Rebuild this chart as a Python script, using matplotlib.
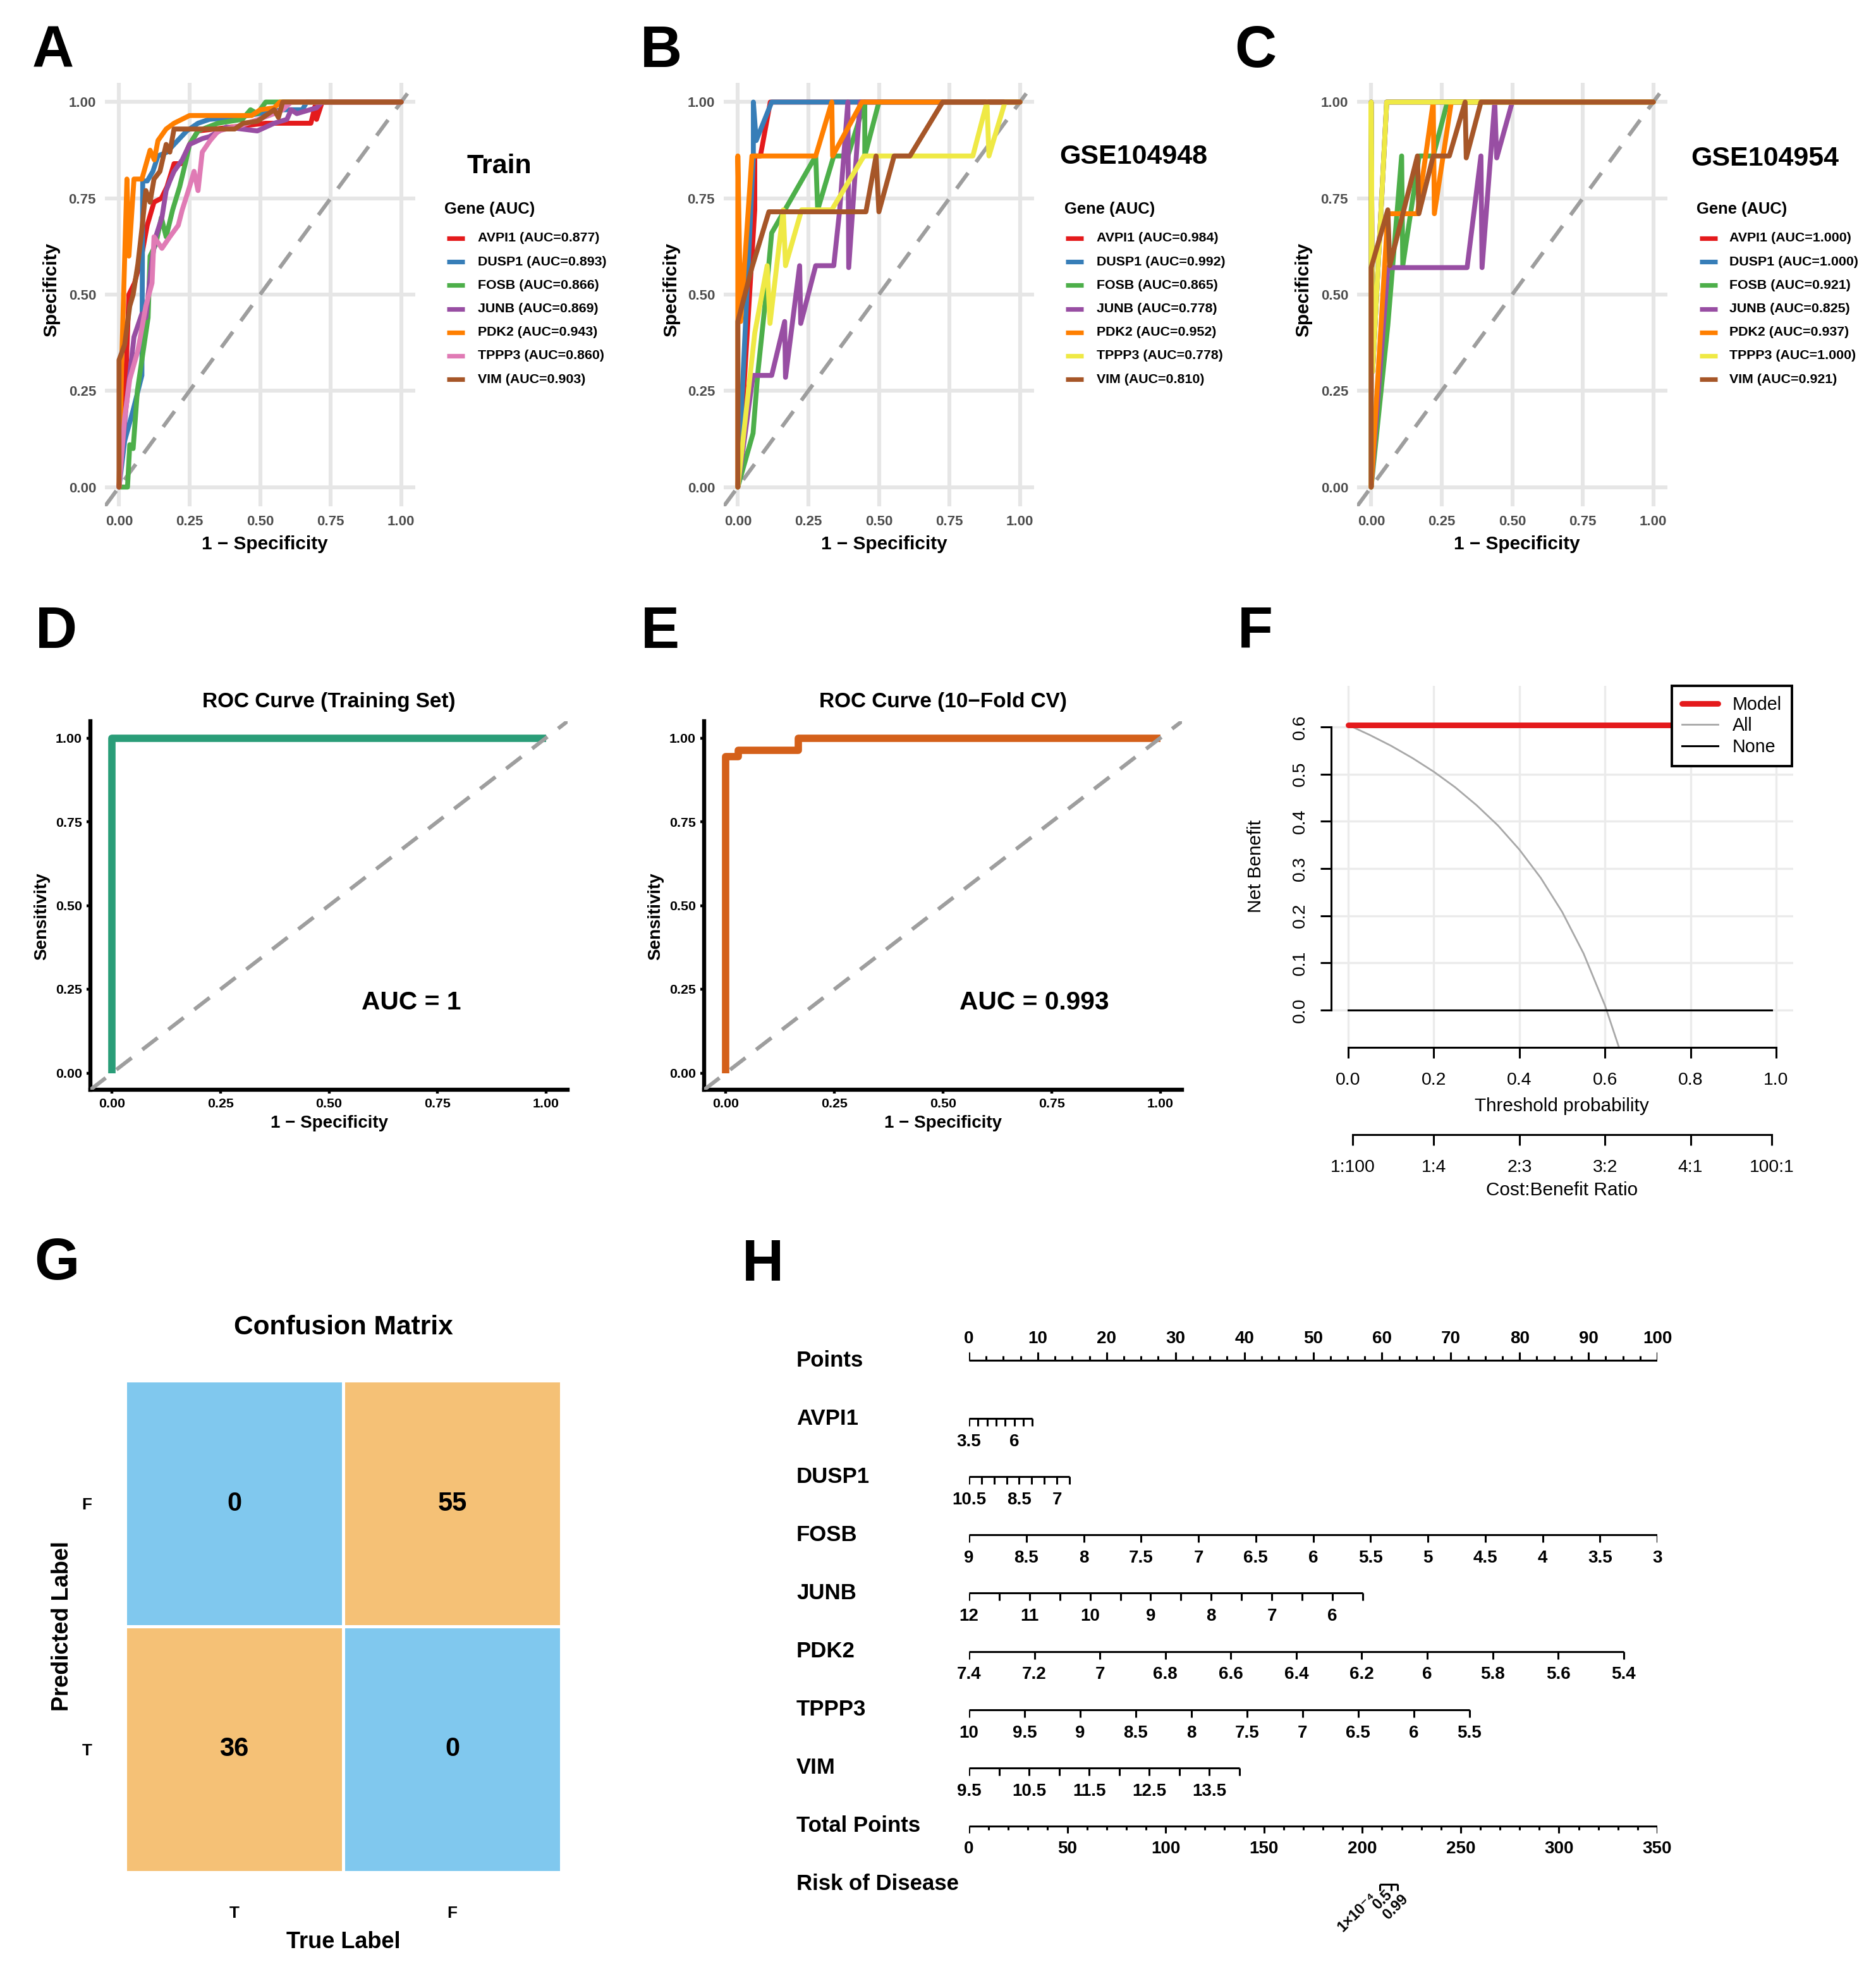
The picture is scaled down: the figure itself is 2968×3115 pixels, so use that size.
import numpy as np
import matplotlib
matplotlib.use('Agg')
import matplotlib.pyplot as plt
from matplotlib.lines import Line2D
from matplotlib.colors import ListedColormap

plt.rcParams['font.family'] = ['Liberation Sans', 'DejaVu Sans']

# ---------------- DATA ----------------
GENES = ['AVPI1', 'DUSP1', 'FOSB', 'JUNB', 'PDK2', 'TPPP3', 'VIM']
AUC_TRAIN = [0.877, 0.893, 0.866, 0.869, 0.943, 0.860, 0.903]
AUC_GSE104948 = [0.984, 0.992, 0.865, 0.778, 0.952, 0.778, 0.810]
AUC_GSE104954 = [1.000, 1.000, 0.921, 0.825, 0.937, 1.000, 0.921]

# Panel A (Train) curves
A_AVPI1_X = [0, 0.02, 0.035, 0.055, 0.08, 0.10, 0.124, 0.15, 0.17, 0.195, 0.22, 0.25, 0.28, 0.40, 0.52, 0.68, 0.695, 0.70, 0.72, 1.0]
A_AVPI1_Y = [0, 0.2, 0.5, 0.53, 0.60, 0.68, 0.74, 0.75, 0.78, 0.84, 0.84, 0.89, 0.925, 0.935, 0.945, 0.945, 0.99, 0.955, 1.0, 1.0]
A_DUSP1_X = [0, 0.02, 0.05, 0.081, 0.084, 0.10, 0.12, 0.138, 0.17, 0.195, 0.24, 0.28, 0.32, 0.44, 0.58, 0.65, 0.665, 1.0]
A_DUSP1_Y = [0, 0.12, 0.2, 0.29, 0.795, 0.795, 0.82, 0.86, 0.87, 0.89, 0.925, 0.945, 0.955, 0.963, 0.98, 0.98, 1.0, 1.0]
A_FOSB_X = [0, 0.03, 0.038, 0.05, 0.065, 0.081, 0.103, 0.11, 0.13, 0.15, 0.167, 0.19, 0.215, 0.238, 0.25, 0.28, 0.35, 0.437, 0.466, 0.49, 0.52, 1.0]
A_FOSB_Y = [0, 0, 0.11, 0.10, 0.25, 0.33, 0.44, 0.60, 0.63, 0.70, 0.65, 0.72, 0.78, 0.85, 0.89, 0.925, 0.945, 0.955, 0.98, 0.97, 1.0, 1.0]
A_JUNB_X = [0, 0.024, 0.053, 0.081, 0.095, 0.115, 0.13, 0.152, 0.167, 0.18, 0.195, 0.224, 0.25, 0.295, 0.32, 0.38, 0.49, 0.55, 0.595, 0.61, 0.63, 0.70, 0.72, 1.0]
A_JUNB_Y = [0, 0.2, 0.39, 0.45, 0.44, 0.58, 0.65, 0.70, 0.77, 0.795, 0.82, 0.85, 0.89, 0.905, 0.91, 0.935, 0.925, 0.945, 0.955, 0.98, 0.97, 0.985, 1.0, 1.0]
A_PDK2_X = [0, 0.01, 0.028, 0.035, 0.053, 0.081, 0.11, 0.125, 0.138, 0.167, 0.195, 0.25, 0.28, 0.47, 0.50, 0.55, 0.57, 1.0]
A_PDK2_Y = [0, 0.34, 0.80, 0.60, 0.80, 0.80, 0.875, 0.85, 0.90, 0.93, 0.945, 0.965, 0.965, 0.965, 0.98, 0.985, 1.0, 1.0]
A_TPPP3_X = [0, 0.02, 0.038, 0.067, 0.095, 0.117, 0.124, 0.152, 0.18, 0.21, 0.224, 0.25, 0.266, 0.28, 0.295, 0.323, 0.352, 0.437, 0.494, 0.55, 0.58, 0.61, 1.0]
A_TPPP3_Y = [0, 0.18, 0.28, 0.355, 0.47, 0.53, 0.65, 0.62, 0.65, 0.68, 0.72, 0.78, 0.82, 0.77, 0.87, 0.90, 0.925, 0.94, 0.955, 0.97, 0.98, 1.0, 1.0]
A_VIM_X = [0, 0, 0.02, 0.038, 0.05, 0.067, 0.081, 0.095, 0.11, 0.124, 0.145, 0.167, 0.18, 0.195, 0.25, 0.41, 0.44, 0.49, 0.55, 0.565, 0.58, 1.0]
A_VIM_Y = [0, 0.33, 0.37, 0.47, 0.50, 0.58, 0.67, 0.77, 0.74, 0.80, 0.82, 0.89, 0.87, 0.93, 0.93, 0.93, 0.945, 0.95, 0.98, 0.96, 1.0, 1.0]

# Panel B (GSE104948) curves
B_AVPI1_X = [0, 0.06, 0.06, 0.08, 0.115, 1.0]
B_AVPI1_Y = [0, 0.72, 0.86, 0.86, 1.0, 1.0]
B_DUSP1_X = [0, 0.055, 0.055, 0.065, 0.12, 1.0]
B_DUSP1_Y = [0, 0.86, 1.0, 0.90, 1.0, 1.0]
B_FOSB_X = [0, 0.054, 0.07, 0.10, 0.12, 0.276, 0.283, 0.34, 0.39, 0.45, 0.45, 0.50, 1.0]
B_FOSB_Y = [0, 0.14, 0.29, 0.50, 0.66, 0.86, 0.72, 0.86, 0.86, 1.0, 0.86, 1.0, 1.0]
B_JUNB_X = [0, 0.054, 0.12, 0.166, 0.169, 0.219, 0.223, 0.276, 0.34, 0.361, 0.39, 0.393, 0.433, 1.0]
B_JUNB_Y = [0, 0.29, 0.29, 0.43, 0.285, 0.575, 0.425, 0.575, 0.575, 0.72, 1.0, 0.57, 1.0, 1.0]
B_PDK2_X = [0, 0, 0.01, 0.05, 0.276, 0.333, 0.336, 0.44, 1.0]
B_PDK2_Y = [0, 0.86, 0.43, 0.86, 0.86, 1.0, 0.86, 1.0, 1.0]
B_TPPP3_X = [0, 0.06, 0.104, 0.114, 0.161, 0.169, 0.226, 0.333, 0.447, 0.833, 0.883, 0.89, 0.947, 1.0]
B_TPPP3_Y = [0, 0.4, 0.575, 0.425, 0.72, 0.575, 0.72, 0.72, 0.86, 0.86, 1.0, 0.86, 1.0, 1.0]
B_VIM_X = [0, 0, 0.05, 0.11, 0.454, 0.49, 0.50, 0.554, 0.61, 0.726, 1.0]
B_VIM_Y = [0, 0.43, 0.57, 0.715, 0.715, 0.86, 0.715, 0.86, 0.86, 1.0, 1.0]

# Panel C (GSE104954) curves
C_AVPI1_X = [0, 0, 0.005, 0.055, 1.0]
C_AVPI1_Y = [0, 1.0, 0.3, 1.0, 1.0]
C_DUSP1_X = [0, 0, 0.005, 0.055, 1.0]
C_DUSP1_Y = [0, 1.0, 0.3, 1.0, 1.0]
C_FOSB_X = [0, 0.059, 0.108, 0.112, 0.17, 0.22, 0.27, 1.0]
C_FOSB_Y = [0, 0.42, 0.86, 0.575, 0.86, 0.86, 1.0, 1.0]
C_JUNB_X = [0, 0.059, 0.34, 0.389, 0.393, 0.438, 0.445, 0.50, 1.0]
C_JUNB_Y = [0, 0.57, 0.57, 0.86, 0.57, 1.0, 0.855, 1.0, 1.0]
C_PDK2_X = [0, 0.059, 0.164, 0.22, 0.224, 0.284, 1.0]
C_PDK2_Y = [0, 0.71, 0.71, 1.0, 0.71, 1.0, 1.0]
C_TPPP3_X = [0, 0, 0.005, 0.055, 1.0]
C_TPPP3_Y = [0, 1.0, 0.3, 1.0, 1.0]
C_VIM_X = [0, 0, 0.059, 0.066, 0.164, 0.169, 0.22, 0.277, 0.333, 0.337, 0.389, 1.0]
C_VIM_Y = [0, 0.57, 0.72, 0.575, 0.86, 0.71, 0.86, 0.86, 1.0, 0.855, 1.0, 1.0]

# Panel D / E
TRAIN_FPR = [0, 0, 1.0]
TRAIN_TPR = [0, 1.0, 1.0]
CV_FPR = [0, 0, 0.028, 0.028, 0.167, 0.167, 1.0]
CV_TPR = [0, 0.945, 0.945, 0.964, 0.964, 1.0, 1.0]

# Panel F (decision curve)
MODEL_THR = [0.0, 0.99]
MODEL_NB = [0.604, 0.604]
ALL_THR = [0.0, 0.05, 0.10, 0.15, 0.20, 0.25, 0.30, 0.35, 0.40, 0.45, 0.50, 0.55, 0.60, 0.635]
ALL_NB = [0.604, 0.583, 0.560, 0.534, 0.505, 0.472, 0.434, 0.391, 0.340, 0.280, 0.208, 0.120, 0.010, -0.085]
NONE_THR = [0.0, 0.99]
NONE_NB = [0.0, 0.0]
CB_POS = [0.01, 0.2, 0.4, 0.6, 0.8, 0.99]
CB_LABELS = ['1:100', '1:4', '2:3', '3:2', '4:1', '100:1']

# Panel G (confusion matrix)
CM_PRED = ['F', 'T']
CM_TRUE = ['T', 'F']
CM_COUNTS = [[0, 55], [36, 0]]

# Panel H (nomogram): ticks, points at first/last tick, labelled ticks
AVPI1_TICKS = [3.5, 4, 4.5, 5, 5.5, 6, 6.5, 7]
AVPI1_PTS = [0, 9.2]
AVPI1_LAB = [3.5, 6]
DUSP1_TICKS = [10.5, 10, 9.5, 9, 8.5, 8, 7.5, 7, 6.5]
DUSP1_PTS = [0, 14.6]
DUSP1_LAB = [10.5, 8.5, 7]
FOSB_TICKS = [9, 8.5, 8, 7.5, 7, 6.5, 6, 5.5, 5, 4.5, 4, 3.5, 3]
FOSB_PTS = [0, 100]
FOSB_LAB = FOSB_TICKS
JUNB_TICKS = [12, 11.5, 11, 10.5, 10, 9.5, 9, 8.5, 8, 7.5, 7, 6.5, 6, 5.5]
JUNB_PTS = [0, 57.2]
JUNB_LAB = [12, 11, 10, 9, 8, 7, 6]
PDK2_TICKS = [7.4, 7.2, 7.0, 6.8, 6.6, 6.4, 6.2, 6.0, 5.8, 5.6, 5.4]
PDK2_PTS = [0, 95.1]
PDK2_LAB = PDK2_TICKS
TPPP3_TICKS = [10, 9.5, 9, 8.5, 8, 7.5, 7, 6.5, 6, 5.5]
TPPP3_PTS = [0, 72.7]
TPPP3_LAB = TPPP3_TICKS
VIM_TICKS = [9.5, 10, 10.5, 11, 11.5, 12, 12.5, 13, 13.5, 14]
VIM_PTS = [0, 39.3]
VIM_LAB = [9.5, 10.5, 11.5, 12.5, 13.5]
POINTS_MAJOR = list(range(0, 101, 10))
POINTS_MINOR = [i * 2.5 for i in range(41)]
TOTAL_MAX = 350
TOTAL_MAJOR = list(range(0, 351, 50))
TOTAL_MINOR = list(range(0, 351, 10))
RISK_LABELS = ['1×10⁻⁴', '0.5', '0.99']
RISK_TOTAL = [208.8, 214.8, 217.8]

# ---------------- LAYOUT HELPERS ----------------
W, H = 2968, 3115
DPI = 200
fig = plt.figure(figsize=(W / DPI, H / DPI), dpi=DPI)
fig.patch.set_facecolor('white')


def R(x0, top, x1, bottom):
    return [x0 / W, 1 - bottom / H, (x1 - x0) / W, (bottom - top) / H]


def T(x, y, s, **kw):
    return fig.text(x / W, 1 - y / H, s, **kw)


def fmt(v):
    return '%g' % v


SET1 = ['#E41A1C', '#377EB8', '#4DAF4A', '#984EA3', '#FF7F00', '#EFE945', '#A65628']
COL_A = ['#E41A1C', '#377EB8', '#4DAF4A', '#984EA3', '#FF7F00', '#E07BB5', '#A65628']

# panel letters
for lab, (x, y) in {'A': (51, 106), 'B': (1013, 106), 'C': (1953, 106),
                    'D': (56, 1025), 'E': (1014, 1025), 'F': (1958, 1023),
                    'G': (54, 2024), 'H': (1174, 2026)}.items():
    T(x, y, lab, fontsize=33, fontweight='bold', ha='left', va='baseline')


# ---------------- A, B, C ----------------
def multi_roc(rect_px, xs, ys, colors, aucs, title, title_xy, leg_x, key_x, txt_x, ylab_x, xlab_x):
    ax = fig.add_axes(R(*rect_px))
    ax.set_xlim(-0.05, 1.05)
    ax.set_ylim(-0.05, 1.05)
    ticks = [0, 0.25, 0.5, 0.75, 1.0]
    ax.set_xticks(ticks, ['%.2f' % t for t in ticks])
    ax.set_yticks(ticks, ['%.2f' % t for t in ticks])
    ax.grid(True, color='#E6E6E6', lw=2.2)
    ax.set_axisbelow(True)
    for s in ax.spines.values():
        s.set_visible(False)
    ax.tick_params(length=0, labelsize=8, labelcolor='#4D4D4D', pad=5)
    for t in ax.get_xticklabels() + ax.get_yticklabels():
        t.set_fontweight('bold')
    ax.plot([-0.05, 1.05], [-0.05, 1.05], color='#9E9E9E', lw=2.2, ls=(0, (5, 3.5)), zorder=1)
    for x, y, c in zip(xs, ys, colors):
        ax.plot(x, y, color=c, lw=2.8, zorder=2, solid_joinstyle='round', solid_capstyle='round')
    T(ylab_x, (rect_px[1] + rect_px[3]) / 2 - 8, 'Specificity', rotation=90, ha='center', va='center',
      fontsize=10.7, fontweight='bold')
    T(xlab_x, 861, '1 − Specificity', ha='center', va='center', fontsize=10.7, fontweight='bold')
    T(title_xy[0], title_xy[1], title, ha='center', va='center', fontsize=15.5, fontweight='bold')
    T(leg_x, 331, 'Gene (AUC)', ha='left', va='center', fontsize=9.2, fontweight='bold')
    for i, (g, a, c) in enumerate(zip(GENES, aucs, colors)):
        yy = 377 + 37.2 * i
        fig.add_artist(Line2D([key_x / W, (key_x + 28) / W], [1 - yy / H, 1 - yy / H],
                              color=c, lw=2.6, solid_capstyle='butt'))
        T(txt_x, yy, '%s (AUC=%.3f)' % (g, a), ha='left', va='center', fontsize=7.7, fontweight='bold')
    return ax


multi_roc((166, 131, 657, 801),
          [A_AVPI1_X, A_DUSP1_X, A_FOSB_X, A_JUNB_X, A_PDK2_X, A_TPPP3_X, A_VIM_X],
          [A_AVPI1_Y, A_DUSP1_Y, A_FOSB_Y, A_JUNB_Y, A_PDK2_Y, A_TPPP3_Y, A_VIM_Y],
          COL_A, AUC_TRAIN, 'Train', (790, 263), 703, 707, 756, 81, 419)
multi_roc((1145, 131, 1636, 801),
          [B_AVPI1_X, B_DUSP1_X, B_FOSB_X, B_JUNB_X, B_PDK2_X, B_TPPP3_X, B_VIM_X],
          [B_AVPI1_Y, B_DUSP1_Y, B_FOSB_Y, B_JUNB_Y, B_PDK2_Y, B_TPPP3_Y, B_VIM_Y],
          SET1, AUC_GSE104948, 'GSE104948', (1793, 248), 1684, 1686, 1735, 1062, 1399)
multi_roc((2147, 131, 2638, 801),
          [C_AVPI1_X, C_DUSP1_X, C_FOSB_X, C_JUNB_X, C_PDK2_X, C_TPPP3_X, C_VIM_X],
          [C_AVPI1_Y, C_DUSP1_Y, C_FOSB_Y, C_JUNB_Y, C_PDK2_Y, C_TPPP3_Y, C_VIM_Y],
          SET1, AUC_GSE104954, 'GSE104954', (2792, 251), 2684, 2689, 2736, 2062, 2400)


# ---------------- D, E ----------------
def single_roc(rect_px, x, y, color, title, auc_label, auc_xy, ylab_x):
    ax = fig.add_axes(R(*rect_px))
    ax.set_xlim(-0.05, 1.05)
    ax.set_ylim(-0.05, 1.05)
    ax.plot(x, y, color=color, lw=4.2, zorder=3, solid_capstyle='butt')
    ax.plot([-0.05, 1.05], [-0.05, 1.05], color='#9E9E9E', lw=2.2, ls=(0, (5, 3.5)), zorder=4)
    ticks = [0, 0.25, 0.5, 0.75, 1.0]
    ax.set_xticks(ticks, ['%.2f' % t for t in ticks])
    ax.set_yticks(ticks, ['%.2f' % t for t in ticks])
    for s in ['top', 'right']:
        ax.spines[s].set_visible(False)
    for s in ['left', 'bottom']:
        ax.spines[s].set_linewidth(2.3)
    ax.tick_params(length=2.2, width=1.6, labelsize=7.7, pad=2.5, colors='black')
    for t in ax.get_xticklabels() + ax.get_yticklabels():
        t.set_fontweight('bold')
    ax.text(auc_xy[0], auc_xy[1], auc_label, ha='center', va='center', fontsize=14.7, fontweight='bold')
    xc = (rect_px[0] + rect_px[2]) / 2
    T(xc, 1111, title, ha='center', va='center', fontsize=12, fontweight='bold')
    T(xc, 1777, '1 − Specificity', ha='center', va='center', fontsize=10, fontweight='bold')
    T(ylab_x, 1450, 'Sensitivity', rotation=90, ha='center', va='center', fontsize=10, fontweight='bold')


single_roc((143, 1141, 898, 1724), TRAIN_FPR, TRAIN_TPR, '#2A9D78', 'ROC Curve (Training Set)',
           'AUC = 1', (0.69, 0.21), 66)
single_roc((1114, 1141, 1870, 1724), CV_FPR, CV_TPR, '#D4601A', 'ROC Curve (10−Fold CV)',
           'AUC = 0.993', (0.71, 0.21), 1037)

# ---------------- F ----------------
axf = fig.add_axes(R(2106, 1085, 2837, 1657))
axf.set_xlim(-0.04, 1.04)
axf.set_ylim(-0.079, 0.687)
xt = [0, 0.2, 0.4, 0.6, 0.8, 1.0]
yt = [0, 0.1, 0.2, 0.3, 0.4, 0.5, 0.6]
for v in xt:
    axf.axvline(v, color='#EBEBEB', lw=1.2, zorder=0)
for v in yt:
    axf.axhline(v, color='#EBEBEB', lw=1.2, zorder=0)
l_model, = axf.plot(MODEL_THR, MODEL_NB, color='#E41A1C', lw=3.2, solid_capstyle='round', zorder=3)
l_all, = axf.plot(ALL_THR, ALL_NB, color='#A8A8A8', lw=1.0, zorder=2)
l_none, = axf.plot(NONE_THR, NONE_NB, color='black', lw=1.1, zorder=2)
for s in ['top', 'right']:
    axf.spines[s].set_visible(False)
axf.spines['left'].set_bounds(0, 0.6)
axf.spines['bottom'].set_bounds(0, 1.0)
axf.spines['left'].set_linewidth(1.1)
axf.spines['bottom'].set_linewidth(1.1)
axf.set_xticks(xt, ['%.1f' % v for v in xt])
axf.set_yticks(yt, ['%.1f' % v for v in yt])
axf.tick_params(length=6, width=1.1, labelsize=10.2, pad=8)
axf.tick_params(axis='y', labelrotation=90, pad=7)
for t in axf.get_yticklabels():
    t.set_va('center')
leg = axf.legend([l_model, l_all, l_none], ['Model', 'All', 'None'], loc='upper right',
                 bbox_to_anchor=(0.997, 1.0), frameon=True, fancybox=False, edgecolor='black',
                 framealpha=1, fontsize=10.3, handlelength=2.0, handletextpad=0.8, borderpad=0.55,
                 labelspacing=0.2, borderaxespad=0)
leg.get_frame().set_linewidth(1.4)
T(2471, 1750, 'Threshold probability', ha='center', va='center', fontsize=10.7)
T(1987, 1370, 'Net Benefit', rotation=90, ha='center', va='center', fontsize=10.7)

axcb = fig.add_axes(R(2106, 1700, 2837, 1795))
axcb.set_xlim(-0.04, 1.04)
axcb.patch.set_visible(False)
for s in ['top', 'right', 'left']:
    axcb.spines[s].set_visible(False)
axcb.spines['bottom'].set_bounds(CB_POS[0], CB_POS[-1])
axcb.spines['bottom'].set_linewidth(1.1)
axcb.set_yticks([])
axcb.set_xticks(CB_POS, CB_LABELS)
axcb.tick_params(length=6, width=1.1, labelsize=10.2, pad=8)
T(2471, 1883, 'Cost:Benefit Ratio', ha='center', va='center', fontsize=10.7)

# ---------------- G ----------------
axg = fig.add_axes(R(198, 2184, 888, 2962))
cm = np.array(CM_COUNTS)
cat = (cm > 0).astype(int)
axg.pcolormesh(np.arange(3), np.arange(3), cat, cmap=ListedColormap(['#80C8EE', '#F5C176']),
               vmin=0, vmax=1, edgecolors='white', linewidth=1.2)
axg.set_xlim(0, 2)
axg.set_ylim(2, 0)
for i in range(2):
    for j in range(2):
        axg.text(j + 0.5, i + 0.5, str(cm[i, j]), ha='center', va='center', fontsize=15, fontweight='bold')
axg.set_xticks([0.5, 1.5], CM_TRUE)
axg.set_yticks([0.5, 1.5], CM_PRED)
for s in axg.spines.values():
    s.set_visible(False)
axg.tick_params(length=0, labelsize=9.4)
axg.tick_params(axis='x', pad=19)
axg.tick_params(axis='y', pad=19)
for t in axg.get_xticklabels() + axg.get_yticklabels():
    t.set_fontweight('bold')
T(543, 2100, 'Confusion Matrix', ha='center', va='center', fontsize=15.3, fontweight='bold')
T(543, 3072, 'True Label', ha='center', va='center', fontsize=13, fontweight='bold')
T(99, 2573, 'Predicted Label', rotation=90, ha='center', va='center', fontsize=13, fontweight='bold')

# ---------------- H ----------------
axh = fig.add_axes(R(1533, 2060, 2622, 3060))
axh.set_xlim(0, 100)
axh.set_ylim(3060, 2060)
axh.axis('off')
LW = 1.1
ROW0, DY = 2152, 92.1
PX_PER_PT = (2622 - 1533) / 100.0
row_names = ['Points'] + GENES + ['Total Points', 'Risk of Disease']
for i, nm in enumerate(row_names):
    T(1260, ROW0 + DY * i, nm, ha='left', va='center', fontsize=12.5, fontweight='bold')

# Points axis
y0 = ROW0
axh.hlines(y0, 0, 100, color='black', lw=LW)
axh.vlines(POINTS_MINOR, y0 - 7, y0, color='black', lw=LW)
axh.vlines(POINTS_MAJOR, y0 - 13, y0, color='black', lw=LW)
for v in POINTS_MAJOR:
    axh.text(v, y0 - 34, str(v), ha='center', va='center', fontsize=10, fontweight='bold')

var_specs = [(AVPI1_TICKS, AVPI1_PTS, AVPI1_LAB), (DUSP1_TICKS, DUSP1_PTS, DUSP1_LAB),
             (FOSB_TICKS, FOSB_PTS, FOSB_LAB), (JUNB_TICKS, JUNB_PTS, JUNB_LAB),
             (PDK2_TICKS, PDK2_PTS, PDK2_LAB), (TPPP3_TICKS, TPPP3_PTS, TPPP3_LAB),
             (VIM_TICKS, VIM_PTS, VIM_LAB)]
for k, (ticks, pts, labs) in enumerate(var_specs):
    y = ROW0 + DY * (k + 1)
    v0, v1 = ticks[0], ticks[-1]

    def topts(v, v0=v0, v1=v1, pts=pts):
        return pts[0] + (v - v0) * (pts[1] - pts[0]) / (v1 - v0)
    axh.hlines(y, topts(v0), topts(v1), color='black', lw=LW)
    axh.vlines([topts(v) for v in ticks], y, y + 12, color='black', lw=LW)
    for v in labs:
        axh.text(topts(v), y + 37, fmt(v), ha='center', va='center', fontsize=10, fontweight='bold')

# Total points
yt_ = ROW0 + DY * 8
sc = 100.0 / TOTAL_MAX
axh.hlines(yt_, 0, 100, color='black', lw=LW)
axh.vlines([v * sc for v in TOTAL_MINOR], yt_, yt_ + 6, color='black', lw=LW)
axh.vlines([v * sc for v in TOTAL_MAJOR], yt_, yt_ + 11, color='black', lw=LW)
for v in TOTAL_MAJOR:
    axh.text(v * sc, yt_ + 36, str(v), ha='center', va='center', fontsize=10, fontweight='bold')

# Risk
yr = ROW0 + DY * 9
axh.hlines(yr, RISK_TOTAL[0] * sc, RISK_TOTAL[-1] * sc, color='black', lw=LW)
axh.vlines([v * sc for v in RISK_TOTAL], yr, yr + 10, color='black', lw=LW)
risk_off = [(-8, 17), (-3, 13), (13, 20)]   # label end offsets in pixels
for v, lab, (dx, dy) in zip(RISK_TOTAL, RISK_LABELS, risk_off):
    axh.text(v * sc + dx / PX_PER_PT, yr + dy, lab, ha='right', va='center', rotation=45,
             rotation_mode='anchor', fontsize=8.5, fontweight='bold')

fig.savefig('out.png', dpi=DPI, facecolor='white')
